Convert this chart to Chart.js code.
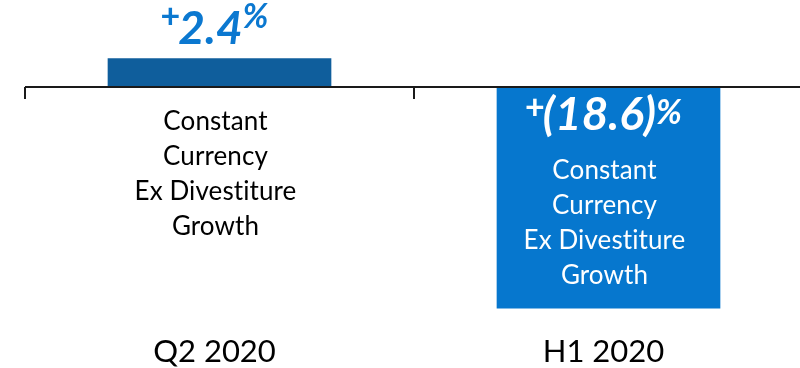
<!DOCTYPE html>
<html>
<head>
<meta charset="utf-8">
<script src="https://cdn.jsdelivr.net/npm/chart.js@4"></script>
<style>
  html, body { margin: 0; padding: 0; background: #fff; overflow: hidden; }
  #growthChart { display: block; }
</style>
</head>
<body>
<canvas id="growthChart" width="803" height="368"></canvas>
<script>
const categories = ["Q2 2020", "H1 2020"];
const growth = [2.4, -18.6];
const noteLines = ["Constant", "Currency", "Ex Divestiture", "Growth"];

const barColors = ["#0F5E9C", "#0677CE"];
const labelBlue = "#0B78D0";
const fontFamily = "Lato, 'Open Sans', sans-serif";

function formatGrowth(value) {
  const abs = Math.abs(value).toFixed(1);
  return value < 0 ? `(${abs})` : abs;
}

// draws "+12.3%" with raised + and % signs, centered on x, baseline at y
function drawGrowthLabel(ctx, text, x, y, color, plusRaise, pctRaise) {
  const mainFont = `italic bold 46px ${fontFamily}`;
  const plusFont = `bold 34px ${fontFamily}`;
  const pctFont = `italic bold 34px ${fontFamily}`;

  ctx.font = plusFont;
  const plusW = ctx.measureText("+").width;
  ctx.font = mainFont;
  const mainW = ctx.measureText(text).width;
  ctx.font = pctFont;
  const pctW = ctx.measureText("%").width;

  let left = x - (plusW + mainW + pctW) / 2;
  ctx.fillStyle = color;
  ctx.textAlign = "left";
  ctx.textBaseline = "alphabetic";

  ctx.font = plusFont;
  ctx.fillText("+", left, y - plusRaise);
  left += plusW - 2;
  ctx.font = mainFont;
  ctx.fillText(text, left, y);
  left += mainW;
  ctx.font = pctFont;
  ctx.fillText("%", left, y - pctRaise);
}

const annotationPlugin = {
  id: "growthAnnotations",
  afterDatasetsDraw(chart) {
    const ctx = chart.ctx;
    const xScale = chart.scales.x;
    const yScale = chart.scales.y;
    const zeroY = yScale.getPixelForValue(0);
    const bars = chart.getDatasetMeta(0).data;
    const step = xScale.getPixelForValue(1) - xScale.getPixelForValue(0);

    ctx.save();

    // zero line with tick marks between categories
    ctx.strokeStyle = "#1a1a1a";
    ctx.lineWidth = 2;
    ctx.beginPath();
    ctx.moveTo(chart.chartArea.left, zeroY);
    ctx.lineTo(chart.chartArea.right, zeroY);
    for (let i = 0; i <= categories.length; i++) {
      const tx = Math.round(xScale.getPixelForValue(0) - step / 2 + i * step);
      ctx.moveTo(tx, zeroY);
      ctx.lineTo(tx, zeroY + 12);
    }
    ctx.stroke();

    bars.forEach((bar, i) => {
      const value = growth[i];
      const positive = value >= 0;
      const cx = bar.x - 4;

      if (positive) {
        drawGrowthLabel(ctx, formatGrowth(value), cx, bar.y - 14, labelBlue, 16, 16);
      } else {
        drawGrowthLabel(ctx, formatGrowth(value), cx, zeroY + 43, "#fff", 11, 6);
      }

      ctx.font = `26px ${fontFamily}`;
      ctx.letterSpacing = "0.1px";
      ctx.fillStyle = positive ? "#000" : "#fff";
      ctx.textAlign = "center";
      ctx.textBaseline = "middle";
      const firstLine = positive ? zeroY + 35 : zeroY + 84;
      noteLines.forEach((line, j) => {
        ctx.fillText(line, cx, firstLine + j * 34.8);
      });

      ctx.letterSpacing = "0px";
      ctx.font = `31px ${fontFamily}`;
      ctx.fillStyle = "#000";
      ctx.fillText(categories[i], xScale.getPixelForValue(i) - 5, 352);
    });

    ctx.restore();
  }
};

new Chart(document.getElementById("growthChart"), {
  type: "bar",
  data: {
    labels: categories,
    datasets: [{
      data: growth,
      backgroundColor: barColors,
      borderWidth: 0,
      categoryPercentage: 1,
      barPercentage: 0.575
    }]
  },
  options: {
    responsive: false,
    animation: false,
    layout: { padding: { left: 25, right: 0, top: 0, bottom: 0 } },
    plugins: {
      legend: { display: false },
      tooltip: { enabled: false }
    },
    scales: {
      x: { display: false },
      y: { display: false, min: -23.6, max: 7.3 }
    }
  },
  plugins: [annotationPlugin]
});
</script>
</body>
</html>
